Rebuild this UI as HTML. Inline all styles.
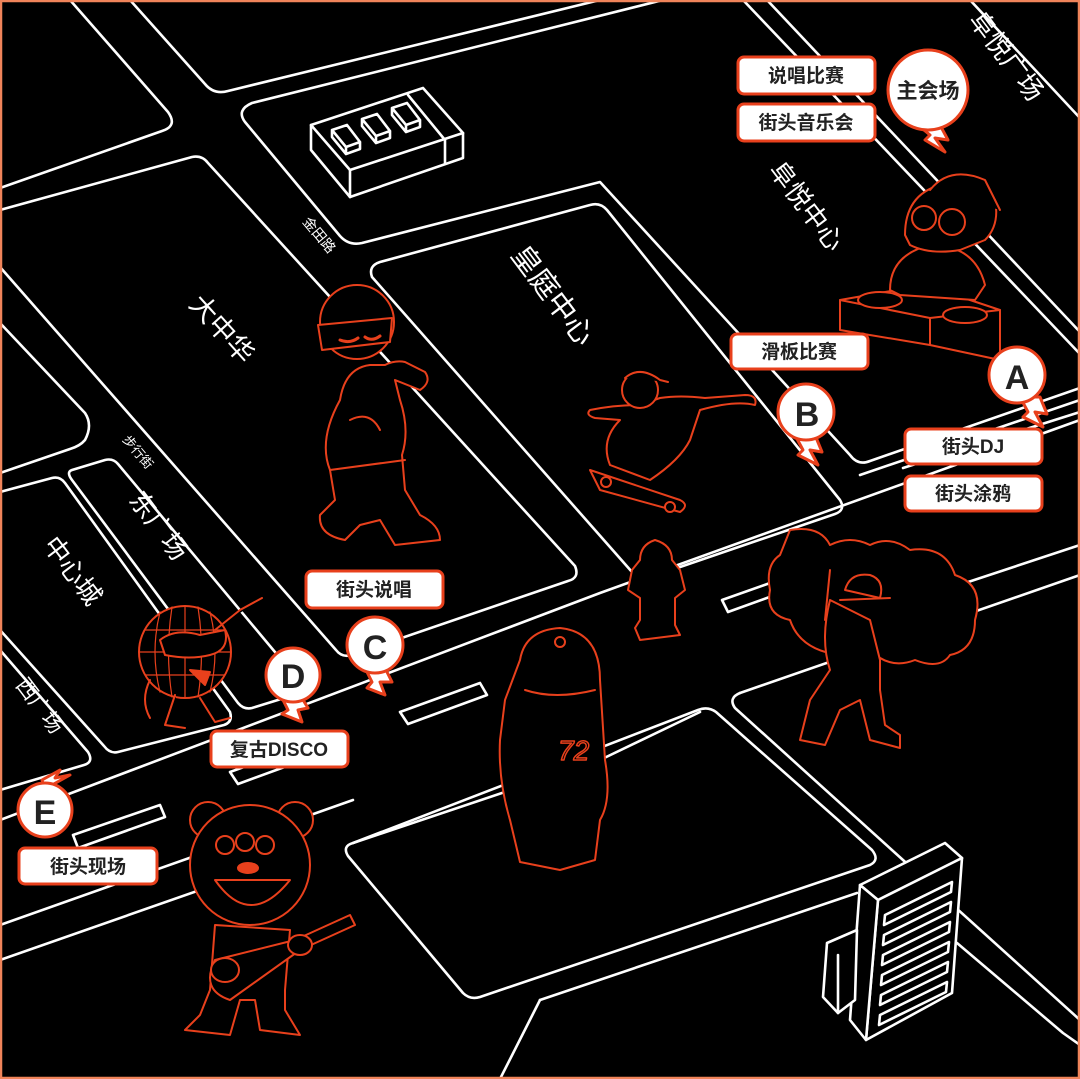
<!DOCTYPE html>
<html><head><meta charset="utf-8"><style>
html,body{margin:0;padding:0;background:#000;}
svg{display:block}
.t{font-family:"Liberation Sans","Noto Sans CJK SC",sans-serif;}
</style></head><body>
<svg width="1080" height="1079" viewBox="0 0 1080 1079" xmlns="http://www.w3.org/2000/svg">
<rect x="0" y="0" width="1080" height="1079" fill="#000"/>
<g fill="none" stroke="#fff" stroke-width="2.6" stroke-linejoin="round" stroke-linecap="round">
<!-- top-left block -->
<path d="M70,0 L168,112 Q178,126 162,131 L0,188"/>
<!-- top block -->
<path d="M130,0 L205,84 Q214,95 228,91 L600,0"/>
<!-- big block with building + 阜悦中心 -->
<path d="M663,0 L252,103 Q236,110 245,122 L340,236 Q349,246 362,243 L600,182 L850,455 Q858,466 870,461 L1080,388"/>
<path d="M743,0 L1080,354"/>
<path d="M767,0 L1080,332"/>
<path d="M970,0 L1080,118"/>
<!-- 皇庭 -->
<path d="M380,262 L590,205 Q600,202 607,210 L840,500 Q846,510 835,514 L648,578 Q638,580 632,572 L372,277 Q368,266 380,262 Z"/>
<!-- 大中华 -->
<path d="M0,210 L192,157 Q202,155 208,163 L575,566 Q580,578 568,581 L352,655 Q342,658 336,650 L0,267"/>
<!-- small left block -->
<path d="M0,323 L85,413 Q93,425 85,440 Q80,446 70,449 L0,473"/>
<!-- 东广场 -->
<path d="M72,470 L105,460 Q113,458 118,464 L300,682 Q304,692 294,695 L252,708 Q244,710 238,703 L72,480 Q66,472 72,470 Z"/>
<!-- 中心城 -->
<path d="M0,492 L52,478 Q60,476 65,483 L230,712 Q233,722 224,725 L118,752 Q110,754 104,746 L0,630"/>
<!-- 西广场 -->
<path d="M0,650 L88,752 Q94,762 84,765 L0,790"/>
<!-- avenue lines -->
<path d="M0,820 L600,593 L1080,420"/>
<path d="M0,925 L353,800"/>
<path d="M860,475 L1080,400"/>
<path d="M903,468 L1080,412"/>
<!-- lower right -->
<path d="M740,693 L1080,575"/>
<path d="M953,587 L1080,545"/>
<path d="M740,693 Q728,698 735,708 L903,860 L1080,1020"/>
<path d="M957,943 L1063,1033 L1080,1045"/>
<!-- bottom-center block -->
<path d="M353,843 Q342,846 348,856 L463,993 Q470,1000 480,997 L870,865 Q880,860 872,850 L716,712 Q708,706 698,710 Z"/>
<path d="M353,843 L600,760 L700,712"/>
<path d="M0,960 L300,855"/>
<path d="M540,1000 L857,893"/>
<path d="M500,1079 L540,1000"/>
<path d="M0,1079 L0,1079"/>
<!-- crosswalk rects -->
<path d="M400,712 L480,683 L487,695 L408,724 Z"/>
<path d="M230,772 L283,753 L290,765 L238,784 Z"/>
<path d="M73,835 L160,805 L165,817 L78,848 Z"/>
<path d="M722,600 L770,583 L775,595 L728,612 Z"/>
<!-- building with 3 boxes -->
<path d="M311,125 L423,88 L463,133 L350,170 Z"/>
<path d="M311,125 L311,150 L350,197 L463,158 L463,133"/>
<path d="M350,170 L350,197"/>
<path d="M408,95 L445,140 L445,163"/>
<path d="M332,130 L347,125 L360,142 L346,147 Z M346,147 L346,154 L360,149 L360,142 M332,130 L332,137 L346,154"/>
<path d="M362,119 L377,114 L390,131 L376,136 Z M376,136 L376,143 L390,138 L390,131 M362,119 L362,126 L376,143"/>
<path d="M392,108 L407,103 L420,120 L406,125 Z M406,125 L406,132 L420,127 L420,120 M392,108 L392,115 L406,132"/>
<!-- tall building -->
<path d="M860,885 L945,843 L962,858 L878,900 Z" fill="#000"/>
<path d="M878,900 L962,858 L952,993 L866,1040 Z" fill="#000"/>
<path d="M860,885 L878,900 L866,1040 L850,1020 Z" fill="#000"/>
<path d="M827,943 L857,930 L855,1000 L838,1013 L823,997 Z" fill="#000"/>
<path d="M838,955 L838,1013"/>
<path d="M885,915 L952,882 L951,892 L884,925 Z M884,935 L951,902 L950,912 L883,945 Z M883,955 L950,922 L949,932 L882,965 Z M882,975 L949,942 L948,952 L881,985 Z M881,995 L948,962 L947,972 L880,1005 Z M880,1015 L947,982 L946,992 L879,1025 Z"/>
</g>

<!-- map labels -->
<g class="t" fill="#fff">
<text x="0" y="0" font-size="14" transform="translate(302,222) rotate(50)">金田路</text>
<text x="0" y="0" font-size="13" transform="translate(122,440) rotate(50)">步行街</text>
<text x="0" y="0" font-size="27" transform="translate(188,305) rotate(48)">大中华</text>
<text x="0" y="0" font-size="29" transform="translate(510,255) rotate(53)">皇庭中心</text>
<text x="0" y="0" font-size="26" transform="translate(768,170) rotate(53)">阜悦中心</text>
<text x="0" y="0" font-size="26" transform="translate(968,20) rotate(53)">阜悦广场</text>
<text x="0" y="0" font-size="26" transform="translate(128,500) rotate(53)">东广场</text>
<text x="0" y="0" font-size="26" transform="translate(42,545) rotate(53)">中心城</text>
<text x="0" y="0" font-size="21" transform="translate(15,685) rotate(53)">西广场</text>
</g>

<!-- characters (orange outlines) -->
<g fill="#000" stroke="#e8401c" stroke-width="2" stroke-linejoin="round" stroke-linecap="round">
<!-- rapper -->
<path d="M340,400 Q318,440 330,470 L335,500 L320,515 Q318,535 345,540 L360,525 L380,520 L395,545 L440,540 Q440,525 420,515 L405,490 L402,455 Q410,430 400,400 L395,380 L420,390 Q432,382 425,372 L405,362 Q395,360 385,365 L370,365 Q345,368 340,400 Z"/>
<circle cx="357" cy="322" r="37"/>
<path d="M318,325 L392,318 L390,342 L322,350 Z"/>
<path d="M340,340 Q350,344 358,338 M365,337 Q372,342 380,336" stroke-width="3"/>
<path d="M330,470 L405,460 M350,420 Q370,410 380,430"/>
<!-- skater -->
<path d="M590,470 L680,500 Q690,505 680,512 L600,490 Z"/>
<circle cx="606" cy="482" r="5"/><circle cx="670" cy="507" r="5"/>
<path d="M620,420 Q600,440 610,465 L650,480 Q680,460 690,440 L700,410 Q735,400 755,405 Q758,395 745,395 L705,398 Q680,395 660,398 L640,405 Q615,405 590,410 Q585,415 595,418 Z"/>
<circle cx="640" cy="390" r="18"/>
<path d="M625,378 Q640,365 660,380 L668,382"/>
<!-- DJ -->
<path d="M840,300 L925,285 L1000,310 L1000,360 L930,345 L840,330 Z"/>
<path d="M840,300 L930,318 L1000,310 M930,318 L930,345"/>
<ellipse cx="880" cy="300" rx="22" ry="8"/><ellipse cx="965" cy="315" rx="22" ry="8"/>
<path d="M890,290 Q890,255 930,245 Q975,245 985,285 L975,300 L900,295 Z"/>
<path d="M905,235 Q905,195 940,185 Q975,175 995,200 Q1000,225 985,240 L960,250 Q930,255 910,245 Z"/>
<circle cx="924" cy="218" r="12"/><circle cx="952" cy="222" r="13"/>
<path d="M930,190 Q950,165 985,180 L1000,210"/>
<!-- hydrant -->
<path d="M640,560 Q640,545 655,540 Q672,545 672,560 L680,570 L685,590 L675,598 L675,625 L680,635 L640,640 L635,628 L640,620 L640,598 L628,590 L632,570 Z"/>
<!-- 72 guy -->
<path d="M520,660 Q525,630 560,628 Q600,632 600,680 L605,760 Q612,800 600,820 L595,860 L560,870 L520,862 L510,820 Q498,780 500,740 L505,700 Z"/>
<path d="M525,690 Q555,700 595,690"/>
<circle cx="560" cy="642" r="5"/>
<text x="558" y="760" class="t" font-size="28" font-style="italic" fill="none" stroke="#e8401c" stroke-width="1.5">72</text>
<!-- graffiti clouds -->
<path d="M790,530 Q820,525 830,545 Q850,535 870,545 Q890,535 910,550 Q945,545 955,575 Q985,585 975,620 Q975,650 950,655 Q940,670 915,660 Q890,670 870,650 L840,655 Q800,650 790,620 Q765,615 770,590 Q765,565 780,555 Z"/>
<path d="M830,600 Q820,640 830,670 L810,700 L800,740 L825,745 L840,710 L860,700 L870,740 L900,748 L900,735 L885,725 L880,690 L880,660 L870,620 Z"/>
<path d="M845,590 Q850,572 870,575 Q885,580 880,598 Z"/>
<path d="M840,600 L890,598"/>
<path d="M830,570 L825,620"/>
<!-- disco ball -->
<circle cx="185" cy="652" r="46"/>
<path d="M140,652 L230,652 M145,630 L225,630 M145,675 L225,675 M185,606 L185,698 M160,612 Q150,652 160,692 M210,612 Q220,652 210,692 M172,607 Q165,652 172,697 M198,607 Q205,652 198,697" stroke-width="1.2"/>
<path d="M160,640 Q175,628 200,635 L225,630 Q230,650 210,655 Q190,660 165,655 Z" fill="#000" stroke-width="2"/>
<path d="M190,670 L210,672 L205,685 Z" fill="#e8401c"/>
<path d="M215,630 L240,610 L262,598 M150,680 Q140,700 150,718 M175,695 L165,725 L185,728 M200,698 L215,722 L230,718"/>
<!-- bear -->
<circle cx="208" cy="820" r="18"/><circle cx="295" cy="820" r="18"/>
<circle cx="250" cy="865" r="60"/>
<path d="M215,880 Q250,930 290,880 Z"/>
<ellipse cx="248" cy="868" rx="10" ry="5" fill="#e8401c"/>
<circle cx="225" cy="845" r="9"/><circle cx="245" cy="842" r="9"/><circle cx="265" cy="845" r="9"/>
<path d="M215,925 L210,990 L200,1015 L185,1030 L230,1035 L240,1000 L255,1000 L260,1030 L300,1035 L285,1010 L285,990 L290,930 Z"/>
<path d="M215,960 Q200,990 230,1000 L300,950 L355,925 L350,915 L295,940 Z"/>
<ellipse cx="225" cy="970" rx="14" ry="12"/>
<ellipse cx="300" cy="945" rx="12" ry="10"/>
</g>

<!-- markers -->
<g stroke="#e8401c" stroke-width="3" fill="#fff" stroke-linejoin="round">
<path d="M918,125 L930,135 L925,140 L945,152 L935,138 L948,140 L940,125 Z"/>
<circle cx="928" cy="90" r="40"/>
<path d="M795,435 L803,450 L798,455 L818,465 L810,450 L822,452 L815,435 Z"/>
<circle cx="806" cy="412" r="28"/>
<path d="M1020,397 L1028,412 L1023,417 L1043,427 L1035,412 L1047,414 L1040,397 Z"/>
<circle cx="1017" cy="375" r="28"/>
<path d="M365,668 L372,682 L367,688 L385,695 L380,682 L392,682 L385,668 Z"/>
<circle cx="375" cy="645" r="28"/>
<path d="M282,698 L288,710 L282,714 L302,722 L298,710 L308,708 L300,695 Z"/>
<circle cx="293" cy="675" r="27"/>
<path d="M45,790 L58,790 L52,785 L70,775 L55,778 L60,770 L42,780 Z"/>
<circle cx="45" cy="810" r="27"/>
</g>
<g class="t" font-weight="bold" fill="#222" text-anchor="middle">
<text x="928" y="98" font-size="21">主会场</text>
<text x="807" y="426" font-size="34">B</text>
<text x="1017" y="389" font-size="34">A</text>
<text x="375" y="659" font-size="34">C</text>
<text x="293" y="688" font-size="34">D</text>
<text x="45" y="824" font-size="34">E</text>
</g>

<!-- pill labels -->
<g stroke="#e8401c" stroke-width="3" fill="#fff">
<rect x="738" y="57" width="137" height="37" rx="6"/>
<rect x="738" y="104" width="137" height="37" rx="6"/>
<rect x="731" y="334" width="137" height="35" rx="6"/>
<rect x="905" y="429" width="137" height="35" rx="6"/>
<rect x="905" y="476" width="137" height="35" rx="6"/>
<rect x="306" y="571" width="137" height="37" rx="6"/>
<rect x="211" y="731" width="137" height="36" rx="6"/>
<rect x="19" y="848" width="138" height="36" rx="6"/>
</g>
<g class="t" font-weight="bold" fill="#222" font-size="19" text-anchor="middle">
<text x="806" y="82">说唱比赛</text>
<text x="806" y="129">街头音乐会</text>
<text x="799" y="358">滑板比赛</text>
<text x="973" y="453">街头DJ</text>
<text x="973" y="500">街头涂鸦</text>
<text x="374" y="596">街头说唱</text>
<text x="279" y="756">复古DISCO</text>
<text x="88" y="873">街头现场</text>
</g>
<rect x="1" y="1" width="1078" height="1077" fill="none" stroke="#f0845a" stroke-width="2.5"/>
</svg>
</body></html>
